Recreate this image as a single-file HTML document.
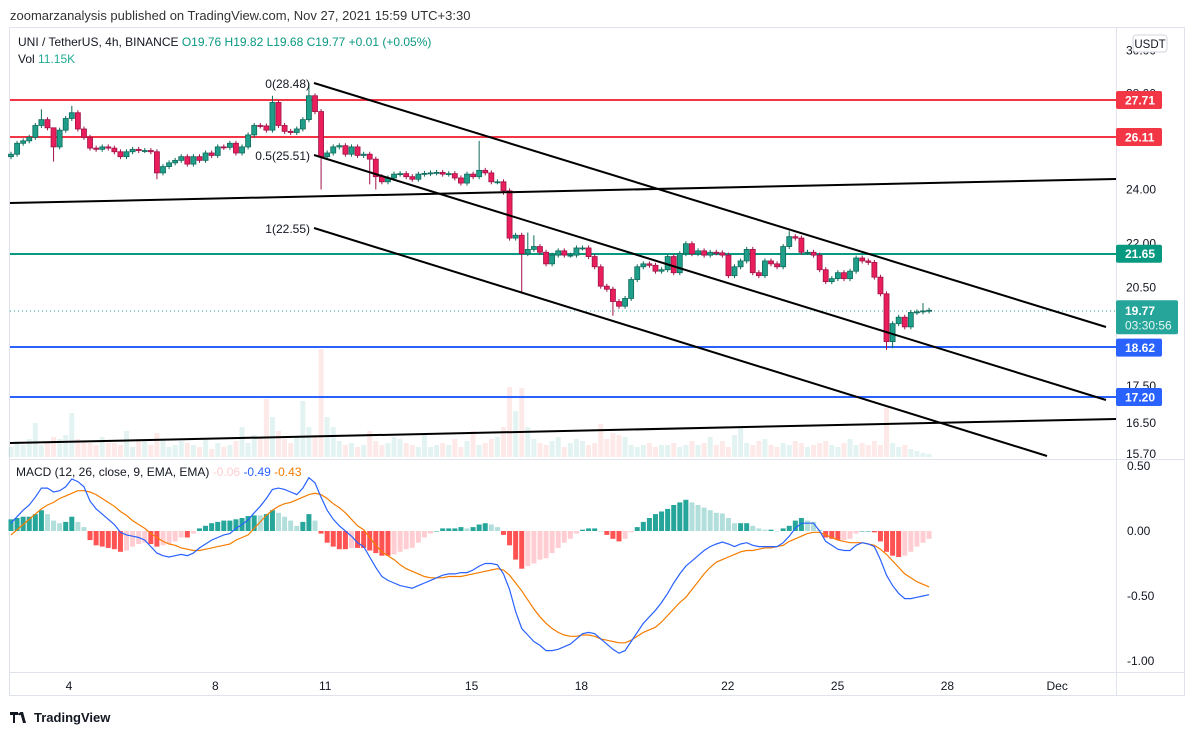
<!DOCTYPE html>
<html><head><meta charset="utf-8"><style>
body{margin:0;background:#fff;font-family:"Liberation Sans",sans-serif;}
svg text{font-family:"Liberation Sans",sans-serif;}
</style></head><body>
<svg id="chart" width="1194" height="735" xmlns="http://www.w3.org/2000/svg">
<rect width="1194" height="735" fill="#fff"/>
<text x="10" y="20" font-size="13" fill="#333">zoomarzanalysis published on TradingView.com, Nov 27, 2021 15:59 UTC+3:30</text>
<rect x="9.5" y="27.5" width="1175" height="668" fill="none" stroke="#e0e3eb"/>
<line x1="1116.5" y1="28" x2="1116.5" y2="695" stroke="#e0e3eb"/>
<line x1="10" y1="459.5" x2="1184" y2="459.5" stroke="#e0e3eb"/>
<line x1="10" y1="672.5" x2="1184" y2="672.5" stroke="#e0e3eb"/>
<g id="vol"></g>
<g id="levels">
<line x1="10" y1="100" x2="1116" y2="100" stroke="#f23645" stroke-width="2"/>
<line x1="10" y1="137" x2="1116" y2="137" stroke="#f23645" stroke-width="2"/>
<line x1="10" y1="254" x2="1116" y2="254" stroke="#089981" stroke-width="2"/>
<line x1="10" y1="347" x2="1116" y2="347" stroke="#2962ff" stroke-width="2"/>
<line x1="10" y1="397" x2="1116" y2="397" stroke="#2962ff" stroke-width="2"/>
<line x1="10" y1="311" x2="1116" y2="311" stroke="#26a69a" stroke-dasharray="1 3"/>
</g>
<g id="candles"></g>
<g stroke="#000" stroke-width="2">
<line x1="314" y1="83" x2="1106" y2="327"/>
<line x1="314" y1="155" x2="1106" y2="400"/>
<line x1="314" y1="228" x2="1047" y2="456"/>
<line x1="10" y1="203" x2="1116" y2="179"/>
<line x1="10" y1="443" x2="1116" y2="419"/>
</g>
<g font-size="12" fill="#131722">
<text x="310" y="88" text-anchor="end">0(28.48)</text>
<text x="310" y="160" text-anchor="end">0.5(25.51)</text>
<text x="310" y="233" text-anchor="end">1(22.55)</text>
</g>
<text x="18" y="46" font-size="12" fill="#131722">UNI / TetherUS, 4h, BINANCE <tspan fill="#089981">O19.76 H19.82 L19.68 C19.77 +0.01 (+0.05%)</tspan></text>
<text x="18" y="63" font-size="12" fill="#131722">Vol <tspan fill="#22ab94">11.15K</tspan></text>
<g id="yaxis" font-size="12" fill="#131722"></g>
<rect x="1133" y="35" width="34" height="17" rx="3" fill="#fff" stroke="#d1d4dc"/>
<text x="1150" y="48" font-size="11.5" text-anchor="middle" fill="#131722">USDT</text>
<g id="plabels" font-size="12" font-weight="bold" fill="#fff"></g>
<g id="macd"></g>
<text x="16" y="476" font-size="12" fill="#131722">MACD (12, 26, close, 9, EMA, EMA) <tspan fill="#ffcdd2">-0.06</tspan> <tspan fill="#2962ff">-0.49</tspan> <tspan fill="#f57c00">-0.43</tspan></text>
<g id="xaxis" font-size="12" fill="#131722" text-anchor="middle"></g>
<g>
<path d="M10 712h8v3h-3v8h-2v-8h-3z M20 712h3l3 11h-3z" fill="#131722"/>
<circle cx="19.5" cy="714" r="1.3" fill="#131722"/>
<text x="34" y="722" font-size="13" font-weight="bold" fill="#131722">TradingView</text>
</g>
</svg>
<script>
const closes=[25.4,25.85,25.95,26.1,26.6,26.85,26.5,25.7,26.4,26.9,
27.15,26.45,26.1,25.65,25.6,25.7,25.65,25.5,25.3,25.5,
25.6,25.55,25.55,25.5,24.65,24.9,25.05,25.15,25.3,25.0,
25.3,25.15,25.45,25.35,25.7,25.68,25.85,25.45,25.7,26.2,
26.6,26.58,26.4,27.6,26.6,26.35,26.3,26.45,26.85,27.9,
27.2,25.3,25.45,25.7,25.75,25.4,25.7,25.35,25.4,25.2,
24.5,24.3,24.45,24.6,24.62,24.5,24.4,24.6,24.63,24.65,
24.67,24.6,24.62,24.45,24.25,24.6,24.5,24.75,24.65,24.3,
24.3,23.95,22.2,22.3,21.65,21.8,21.9,21.7,21.3,21.6,
21.75,21.6,21.6,21.85,21.85,21.55,21.2,20.55,20.45,20.05,
19.9,20.15,20.77,21.2,21.3,21.25,21.05,21.1,21.55,21.0,
21.65,22.0,21.65,21.75,21.6,21.7,21.68,21.6,20.9,21.2,
21.4,21.8,21.0,20.9,21.4,21.3,21.2,21.9,22.25,22.2,
21.7,21.7,21.6,21.1,20.7,20.8,21.0,20.8,21.05,21.5,
21.4,21.35,20.85,20.3,18.8,19.35,19.55,19.25,19.7,19.72,
19.75,19.77];
const firstOpen=25.3;
const highOverrides={5:27.3,7:25.9,10:27.45,43:27.9,44:27.7,49:28.48,50:28.0,77:25.95,85:22.4,86:22.3,128:22.45,150:20.0};
const lowOverrides={7:25.1,24:24.4,51:24.0,59:24.2,60:24.0,81:23.8,84:20.35,99:19.6,144:18.55,145:18.6};
const volumes=[10,16,12,18,34,12,14,20,18,22,
44,18,16,14,12,20,14,14,12,26,
10,18,16,12,24,18,10,12,16,14,
12,10,18,8,14,10,12,16,30,14,
22,20,58,40,26,18,14,20,56,30,
22,108,40,30,16,12,14,10,12,26,
16,12,14,20,18,14,12,10,22,10,
12,14,12,18,10,16,26,12,14,18,
20,30,70,46,69,30,18,14,12,16,
20,10,14,18,16,12,14,33,18,24,
22,20,12,10,12,14,10,12,12,14,
10,12,16,12,14,20,12,16,10,22,
31,14,12,16,18,12,10,14,12,16,
14,10,12,14,16,12,10,14,18,12,
14,12,16,12,49,14,10,12,8,6,
4,3];
const macdLine=[0.06,0.11,0.16,0.20,0.26,0.33,0.33,0.30,0.31,0.34,
0.40,0.38,0.34,0.23,0.17,0.13,0.09,0.05,-0.01,-0.03,
-0.04,-0.05,-0.07,-0.12,-0.17,-0.19,-0.20,-0.19,-0.18,-0.19,
-0.17,-0.13,-0.10,-0.07,-0.05,-0.03,-0.02,0.02,0.05,0.085,
0.14,0.19,0.25,0.32,0.33,0.32,0.30,0.28,0.33,0.41,
0.37,0.26,0.16,0.09,0.04,0.0,-0.04,-0.09,-0.12,-0.2,
-0.28,-0.35,-0.38,-0.40,-0.42,-0.43,-0.44,-0.42,-0.40,-0.38,
-0.36,-0.34,-0.33,-0.33,-0.32,-0.32,-0.30,-0.27,-0.25,-0.25,
-0.26,-0.33,-0.45,-0.62,-0.75,-0.80,-0.85,-0.88,-0.92,-0.92,
-0.91,-0.89,-0.87,-0.83,-0.79,-0.78,-0.79,-0.83,-0.87,-0.91,
-0.94,-0.92,-0.85,-0.78,-0.71,-0.66,-0.61,-0.55,-0.48,-0.40,
-0.33,-0.27,-0.23,-0.19,-0.15,-0.12,-0.10,-0.085,-0.10,-0.12,
-0.10,-0.09,-0.11,-0.12,-0.12,-0.12,-0.12,-0.09,-0.04,0.02,
0.06,0.06,0.06,0.0,-0.08,-0.11,-0.14,-0.15,-0.15,-0.11,
-0.09,-0.10,-0.12,-0.22,-0.34,-0.42,-0.48,-0.52,-0.52,-0.51,
-0.50,-0.49];
const signalLine=[-0.03,0.01,0.05,0.09,0.13,0.17,0.20,0.22,0.25,0.27,
0.29,0.31,0.31,0.30,0.28,0.25,0.22,0.19,0.15,0.12,
0.08,0.05,0.02,-0.02,-0.05,-0.08,-0.10,-0.11,-0.13,-0.14,
-0.15,-0.15,-0.14,-0.13,-0.12,-0.11,-0.10,-0.07,-0.05,-0.03,
0.02,0.07,0.12,0.16,0.19,0.21,0.22,0.24,0.26,0.28,
0.29,0.28,0.25,0.21,0.18,0.14,0.09,0.04,0.01,-0.05,
-0.11,-0.16,-0.19,-0.22,-0.26,-0.29,-0.31,-0.33,-0.35,-0.36,
-0.36,-0.36,-0.35,-0.35,-0.35,-0.34,-0.33,-0.32,-0.31,-0.30,
-0.29,-0.30,-0.34,-0.40,-0.46,-0.53,-0.60,-0.66,-0.71,-0.75,
-0.78,-0.80,-0.81,-0.81,-0.80,-0.80,-0.81,-0.83,-0.84,-0.85,
-0.86,-0.86,-0.84,-0.81,-0.78,-0.76,-0.74,-0.70,-0.65,-0.60,
-0.55,-0.51,-0.45,-0.39,-0.33,-0.28,-0.24,-0.22,-0.20,-0.18,
-0.16,-0.15,-0.15,-0.14,-0.13,-0.13,-0.12,-0.11,-0.08,-0.06,
-0.04,-0.02,-0.01,-0.01,-0.03,-0.05,-0.07,-0.08,-0.09,-0.09,
-0.09,-0.10,-0.11,-0.14,-0.18,-0.23,-0.28,-0.33,-0.36,-0.39,
-0.41,-0.43];
const priceTicks=[30.00,28.00,24.00,22.00,20.50,17.50,16.50,15.70];
const macdTicks=[0.50,0.00,-0.50,-1.00];
const dateLabels=["4","8","11","15","18","22","25","28","Dec"];
const dateIndex=[9,33,51,75,93,117,135,153,171];
const priceLabels=[[27.71,"#f23645"],[26.11,"#f23645"],[21.65,"#089981"],[18.62,"#2962ff"],[17.20,"#2962ff"]];

const NS="http://www.w3.org/2000/svg";
const xOf=i=>11+i*6.08;
const yOf=p=>100+(Math.log(27.71)-Math.log(p))*622.8;
const yM=v=>531-v*130;
function mk(tag,attrs,parent){const e=document.createElementNS(NS,tag);for(const k in attrs)e.setAttribute(k,attrs[k]);parent.appendChild(e);return e;}

const gV=document.getElementById('vol');
const gC=document.getElementById('candles');
for(let i=0;i<closes.length;i++){
  const o=i?closes[i-1]:firstOpen,c=closes[i];
  const up=c>=o;const x=xOf(i);
  const vh=volumes[i]*1.0;
  const vb=mk('rect',{x:x-2.5,y:457-vh,width:5,height:vh,fill:up?'#26a69a':'#ef5350','fill-opacity':0.13},gV);
  
  
  const hi=highOverrides[i]!==undefined?highOverrides[i]:Math.max(o,c)*1.004;
  const lo=lowOverrides[i]!==undefined?lowOverrides[i]:Math.min(o,c)*0.996;
  const col=up?'#0f6b5c':'#a0124a';
  const w=mk('line',{x1:x,x2:x,y1:yOf(hi),y2:yOf(lo),stroke:col,'stroke-width':1},gC);
  
  
  const yt=yOf(Math.max(o,c)),yb=yOf(Math.min(o,c));
  const b=mk('rect',{x:x-2.5,y:yt,width:5,height:Math.max(1,yb-yt),fill:up?'#1f9e8a':'#e91e5a',stroke:col,'stroke-width':0.8},gC);
  
  
}
const gY=document.getElementById('yaxis');
priceTicks.forEach(p=>{const t=mk('text',{x:1126,y:yOf(p)+4},gY);t.textContent=p.toFixed(2);

});
const gL=document.getElementById('plabels');
priceLabels.forEach(([p,c])=>{const y=yOf(p);mk('rect',{x:1116,y:y-9,width:46,height:18,rx:2,fill:c},gL);
const t=mk('text',{x:1125,y:y+4.5},gL);t.textContent=p.toFixed(2);

});
{const last=closes[closes.length-1];const y=yOf(last);
mk('rect',{x:1116,y:y-10,width:62,height:34,rx:2,fill:'#26a69a'},gL);
const t=mk('text',{x:1125,y:y+4.5},gL);t.textContent=last.toFixed(2);


const t2=mk('text',{x:1125,y:y+19,'font-weight':'normal',fill:'#e6f5f3'},gL);t2.textContent='03:30:56';

}

const gM=document.getElementById('macd');
for(let i=0;i<macdLine.length;i++){
  const h=macdLine[i]-signalLine[i];const ph=i?macdLine[i-1]-signalLine[i-1]:h;
  let col;if(h>=0)col=h>=ph?'#26a69a':'#b2dfdb';else col=h<=ph?'#ff5252':'#ffcdd2';
  const y0=yM(0),y1=yM(h);
  const r=mk('rect',{x:xOf(i)-2.5,y:Math.min(y0,y1),width:5,height:Math.max(0.5,Math.abs(y1-y0)),fill:col},gM);
  
  
}
const pl=(arr,c,n)=>{const p=mk('polyline',{points:arr.map((v,i)=>xOf(i)+','+yM(v)).join(' '),fill:'none',stroke:c,'stroke-width':1.2},gM);

};
pl(signalLine,'#f57c00','signal-line');
pl(macdLine,'#2962ff','macd-line');
macdTicks.forEach(v=>{const t=mk('text',{x:1127,y:yM(v)+4,'font-size':12,fill:'#131722'},gM);t.textContent=v.toFixed(2);

});
const gX=document.getElementById('xaxis');
dateLabels.forEach((d,k)=>{const t=mk('text',{x:69+(dateIndex[k]-9)*6.1,y:690},gX);t.textContent=d;

});
</script>
</body></html>
